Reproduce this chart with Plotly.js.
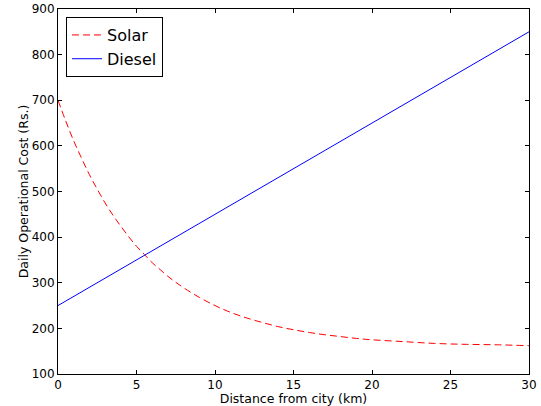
<!DOCTYPE html>
<html>
<head>
<meta charset="utf-8">
<script src="https://cdn.plot.ly/plotly-3.0.1.min.js"></script>
<style>html,body{margin:0;padding:0;background:#fff;}#chart{width:541px;height:406px;}</style>
</head>
<body>
<div id="chart"></div>
<script>
const solarX = [0,0.5,1,1.5,2,2.5,3,3.5,4,4.5,5,5.5,6,6.5,7,7.5,8,9,10,11,12,13,14,15,16,17,18,19,20,22,24,26,28,30];
const solarY = [700,654,611,573,537,505,475,448,424,401,380,362,344,329,314,301,289,268,250,235,223,213,204,197,191,186,182,178,175,171,167,165,164,162];
const dieselX = [0,30];
const dieselY = [250,850];
const seriesNames = ["Solar","Diesel"];
const xTicks = [0,5,10,15,20,25,30];
const yTicks = [100,200,300,400,500,600,700,800,900];

const font = {family:"DejaVu Sans, sans-serif", size:12, color:"#000"};
const traces = [
  {x:solarX, y:solarY, name:seriesNames[0], mode:"lines", line:{color:"#ff0000", width:1, dash:"7px,4px", shape:"spline"}},
  {x:dieselX, y:dieselY, name:seriesNames[1], mode:"lines", line:{color:"#0000ff", width:1}}
];
const axisCommon = {showgrid:false, zeroline:false, showline:true, linecolor:"#000", linewidth:1, mirror:"ticks", ticks:"inside", ticklen:4, tickcolor:"#000", tickfont:font};
const layout = {
  width:541, height:406,
  margin:{l:58, r:12, t:9, b:32},
  paper_bgcolor:"#fff", plot_bgcolor:"#fff",
  font:font,
  showlegend:true,
  legend:{x:0.017, y:0.978, xanchor:"left", yanchor:"top", bordercolor:"#000", borderwidth:1, bgcolor:"#fff", font:{family:"DejaVu Sans, sans-serif", size:16, color:"#000"}, tracegroupgap:0},
  xaxis:Object.assign({}, axisCommon, {range:[0,30], tickvals:xTicks, title:{text:"Distance from city (km)", font:{family:"DejaVu Sans, sans-serif", size:12.5}, standoff:2}}),
  yaxis:Object.assign({}, axisCommon, {range:[100,900], tickvals:yTicks, title:{text:"Daily Operational Cost (Rs.)", font:{family:"DejaVu Sans, sans-serif", size:12.5}, standoff:0}})
};
Plotly.newPlot("chart", traces, layout, {displayModeBar:false, staticPlot:true});
</script>
</body>
</html>
